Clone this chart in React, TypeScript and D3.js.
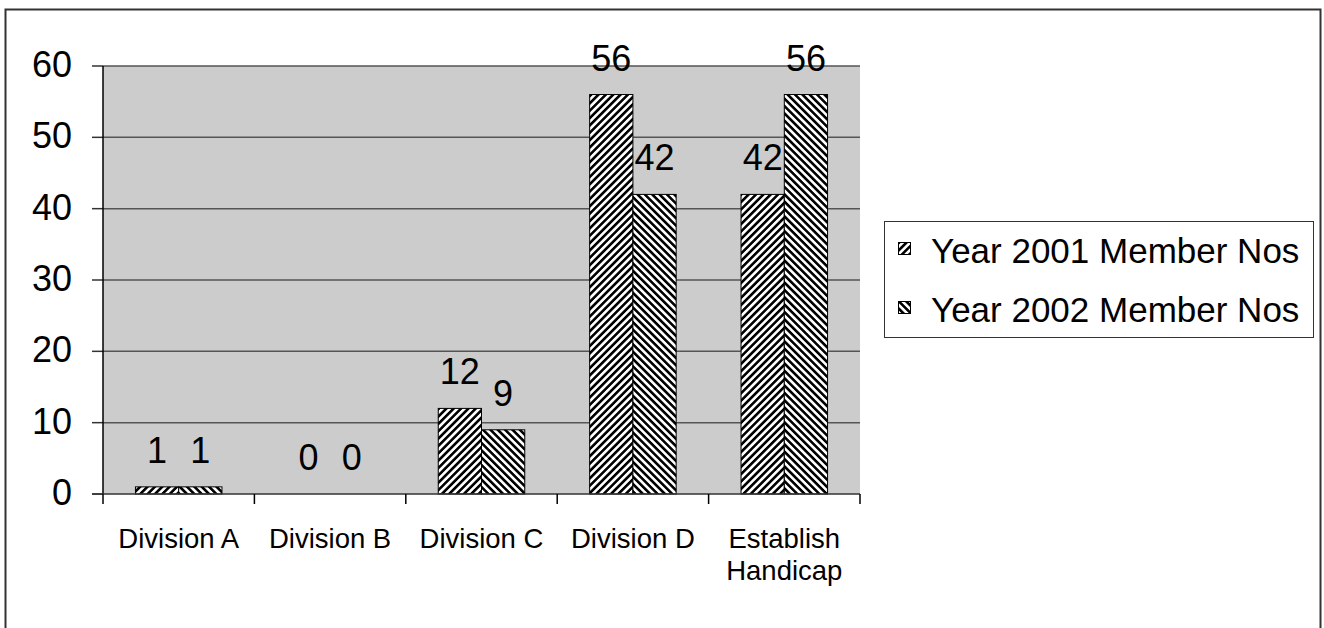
import React from 'react'
import * as d3 from 'd3'

// chart data
const categories = ['Division A', 'Division B', 'Division C', 'Division D', 'Establish Handicap']
const year2001 = [1, 0, 12, 56, 42]
const year2002 = [1, 0, 9, 42, 56]
const seriesNames = ['Year 2001 Member Nos', 'Year 2002 Member Nos']
const yTicks = [0, 10, 20, 30, 40, 50, 60]

const W = 1324
const H = 628
const plot = { left: 103, right: 860, top: 66, bottom: 494 }
const font = '"Liberation Sans", Arial, sans-serif'
const P = 5.2 // hatch period

const App = () => {
  // Excel gap width 150%: each category = 2 bars + 1.5 bar widths of gap
  const x = d3.scaleBand<string>()
    .domain(categories)
    .range([plot.left, plot.right])
    .padding(0)
  const band = x.bandwidth()
  const barW = band / 3.5
  const y = d3.scaleLinear().domain([0, 60]).range([plot.bottom, plot.top])

  const series = [year2001, year2002]
  const patterns = ['p2001', 'p2002']

  return (
    <svg width={W} height={H} style={{ position: 'absolute', left: 0, top: 0, background: '#fff' }} fontFamily={font}>
      <defs>
        <pattern id="p2001" width={P} height={P} patternUnits="userSpaceOnUse" patternTransform="rotate(45)">
          <rect width={P} height={P} fill="#fff" />
          <rect width={P / 2} height={P} fill="#000" />
        </pattern>
        <pattern id="p2002" width={P} height={P} patternUnits="userSpaceOnUse" patternTransform="rotate(-45)">
          <rect width={P} height={P} fill="#fff" />
          <rect width={P / 2} height={P} fill="#000" />
        </pattern>
      </defs>

      {/* outer frame */}
      <rect x={5.5} y={9.5} width={1315} height={640} fill="none" stroke="#333" strokeWidth={2} />

      {/* plot area */}
      <rect x={plot.left} y={plot.top} width={plot.right - plot.left} height={plot.bottom - plot.top} fill="#cccccc" />
      {yTicks.map(t => (
        <g key={t}>
          {t > 0 && <line x1={plot.left} x2={plot.right} y1={y(t)} y2={y(t)} stroke="#555" strokeWidth={1.5} />}
          <line x1={plot.left - 11} x2={plot.left} y1={y(t)} y2={y(t)} stroke="#333" strokeWidth={1.5} />
          <text x={72} y={y(t) + 11} fontSize={36} textAnchor="end" fill="#000">{t}</text>
        </g>
      ))}

      {/* bars */}
      {series.map((vals, s) => vals.map((v, i) => {
        const bx = (x(categories[i]) ?? 0) + barW * 0.75 + barW * s
        return (
          <g key={`${s}-${i}`}>
            {v > 0 && (
              <rect x={bx} y={y(v)} width={barW} height={y(0) - y(v)}
                fill={`url(#${patterns[s]})`} stroke="#000" strokeWidth={1} />
            )}
            <text x={bx + barW / 2} y={y(v) - 24} fontSize={36} textAnchor="middle" fill="#000">{v}</text>
          </g>
        )
      }))}

      {/* axes */}
      <line x1={plot.left} x2={plot.left} y1={plot.top} y2={plot.bottom} stroke="#000" strokeWidth={1.5} />
      <line x1={plot.left - 11} x2={plot.right} y1={plot.bottom} y2={plot.bottom} stroke="#333" strokeWidth={1.5} />
      {d3.range(categories.length + 1).map(i => {
        const tx = plot.left + band * i
        return <line key={i} x1={tx} x2={tx} y1={plot.bottom} y2={plot.bottom + 10} stroke="#000" strokeWidth={1.5} />
      })}
      {categories.map(c => {
        const words = c === 'Establish Handicap' ? ['Establish', 'Handicap'] : [c]
        const cx = (x(c) ?? 0) + band / 2
        return (
          <text key={c} x={cx} y={548} fontSize={27.5} textAnchor="middle" fill="#000">
            {words.map((w, k) => (
              <tspan key={k} x={cx} dy={k === 0 ? 0 : 32}>{w}</tspan>
            ))}
          </text>
        )
      })}

      {/* legend */}
      <rect x={884.5} y={221.5} width={429} height={116} fill="#fff" stroke="#333" strokeWidth={1} />
      {seriesNames.map((n, i) => (
        <g key={n}>
          <rect x={898.5} y={242.5 + i * 59} width={12} height={12} fill={`url(#${patterns[i]})`} stroke="#000" strokeWidth={1} />
          <text x={931} y={263 + i * 59} fontSize={35} fill="#000">{n}</text>
        </g>
      ))}
    </svg>
  )
}

export default App
